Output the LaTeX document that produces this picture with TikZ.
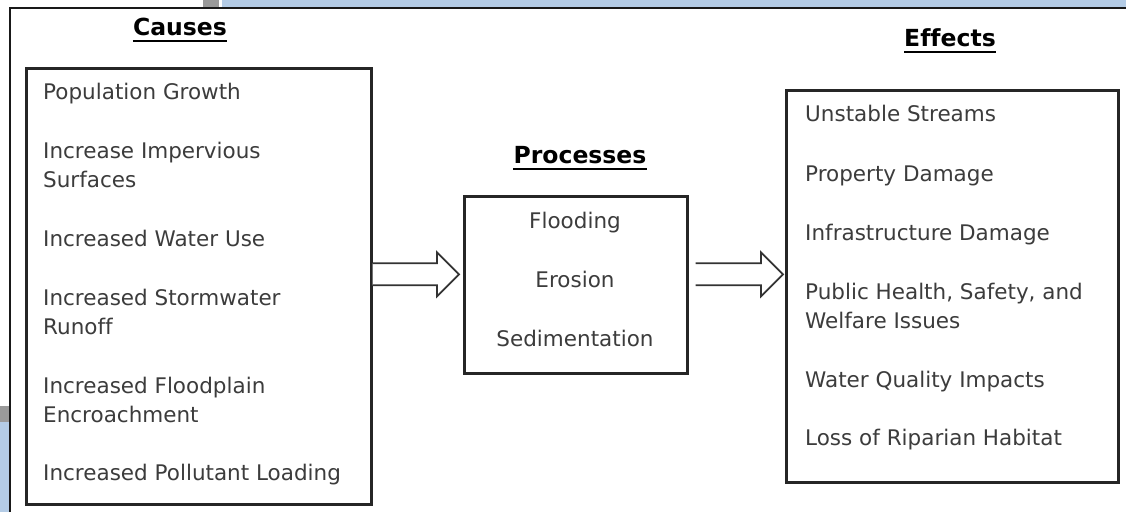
\documentclass[tikz,border=0pt]{standalone}
\usepackage{fontspec}
\setmainfont{DejaVu Sans}[Ligatures=NoCommon]
\usetikzlibrary{calc}
\definecolor{txt}{HTML}{3C3C3C}
\definecolor{winblue}{HTML}{B4CCE6}
\definecolor{wingrey}{HTML}{9A9A9A}
\tikzset{
  x=1pt, y=-1pt,
  box/.style={draw=black!85, line width=2.6pt, fill=white, anchor=north west, inner sep=0pt},
  item/.style={anchor=mid west, inner sep=0pt, text=txt, font=\fontsize{21.5}{25}\selectfont},
  citem/.style={item, anchor=mid},
  head/.style={anchor=base, inner sep=0pt, text=black, font=\fontsize{23.5}{27}\selectfont\bfseries},
  ul/.style={line width=2.4pt, black},
  harrow/.style={draw=black!80, line width=1.8pt, fill=white, line join=miter},
}
\newcommand\hollowarrow[2]{%
  \draw[harrow] let \p1=(#1), \p2=(#2) in
    (\x1,\y1+11pt) -- (\x2-22pt,\y1+11pt) -- (\x2-22pt,\y1+22pt) -- (\x2,\y1)
    -- (\x2-22pt,\y1-22pt) -- (\x2-22pt,\y1-11pt) -- (\x1,\y1-11pt);}
\newcommand\headline[1]{%
  \draw[ul] ([yshift=-6pt]#1.base west) -- ([yshift=-6pt]#1.base east);}
\begin{document}
\begin{tikzpicture}
\useasboundingbox (0,0) rectangle (1126,512);
% screenshot surroundings
\fill[white] (0,0) rectangle (1126,512);
\fill[winblue] (222,0) rectangle (1126,7);
\fill[wingrey] (203,0) rectangle (219,7);
\fill[wingrey] (0,406) rectangle (10,422);
\fill[winblue] (0,422) rectangle (10,512);
\draw[line width=2.5pt, black!90] (10,512) -- (10,8) -- (1126,8);

% headings
\node[head] (hc) at (180,35) {Causes};
\node[head] (hp) at (580,163) {Processes};
\node[head] (he) at (950,46) {Effects};
\headline{hc}
\headline{hp}
\headline{he}

% boxes
\node[box, minimum width=345, minimum height=436] (cbox) at (25,67) {};
\node[box, minimum width=223, minimum height=177] (pbox) at (463,195) {};
\node[box, minimum width=332, minimum height=392] (ebox) at (785,89) {};

% causes
\node[item] (c1) at (43,97) {Population Growth};
\node[item] (c2a) at (43,156) {Increase Impervious};
\node[item] (c2b) at (43,185) {Surfaces};
\node[item] (c3) at (43,244) {Increased Water Use};
\node[item] (c4a) at (43,303) {Increased Stormwater};
\node[item] (c4b) at (43,332) {Runoff};
\node[item] (c5a) at (43,391) {Increased Floodplain};
\node[item] (c5b) at (43,420) {Encroachment};
\node[item] (c6) at (43,478) {Increased Pollutant Loading};

% processes
\node[citem] (p1) at (575,226) {Flooding};
\node[citem] (p2) at (575,285) {Erosion};
\node[citem] (p3) at (575,344) {Sedimentation};

% effects
\node[item] (e1) at (805,119) {Unstable Streams};
\node[item] (e2) at (805,179) {Property Damage};
\node[item] (e3) at (805,238) {Infrastructure Damage};
\node[item] (e4a) at (805,297) {Public Health, Safety, and};
\node[item] (e4b) at (805,326) {Welfare Issues};
\node[item] (e5) at (805,385) {Water Quality Impacts};
\node[item] (e6) at (805,443) {Loss of Riparian Habitat};

% arrows
\hollowarrow{[yshift=12pt]cbox.east}{[xshift=-4pt]pbox.west}
\hollowarrow{[xshift=7pt,yshift=10.5pt]pbox.east}{[xshift=-2pt]ebox.west}
\end{tikzpicture}
\end{document}
